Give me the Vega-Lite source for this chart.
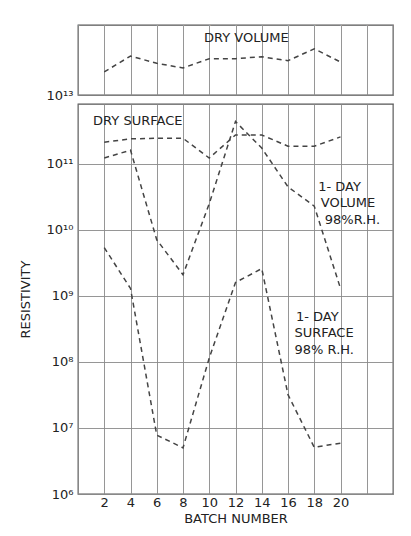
{
  "$schema": "https://vega.github.io/schema/vega-lite/v6.json",
  "background": "white",
  "padding": {"left": 18, "top": 23, "right": 17, "bottom": 8},
  "spacing": 0,
  "config": {
    "font": "DejaVu Sans",
    "view": {"stroke": "#555", "strokeWidth": 1.3},
    "axis": {"gridColor": "#8a8a8a", "gridWidth": 0.9, "gridOpacity": 1, "domain": false, "ticks": false, "labelColor": "#222", "titleColor": "#222", "labelFontSize": 13, "titleFontSize": 13, "titleFontWeight": "normal", "labelFont": "DejaVu Sans", "titleFont": "DejaVu Sans"}
  },
  "datasets": {
    "upper": [
      {"batch": 2, "value": 2.24e13, "series": "Dry volume"},
      {"batch": 4, "value": 3.89e13, "series": "Dry volume"},
      {"batch": 6, "value": 3.02e13, "series": "Dry volume"},
      {"batch": 8, "value": 2.57e13, "series": "Dry volume"},
      {"batch": 10, "value": 3.55e13, "series": "Dry volume"},
      {"batch": 12, "value": 3.55e13, "series": "Dry volume"},
      {"batch": 14, "value": 3.8e13, "series": "Dry volume"},
      {"batch": 16, "value": 3.31e13, "series": "Dry volume"},
      {"batch": 18, "value": 5.01e13, "series": "Dry volume"},
      {"batch": 20, "value": 3.16e13, "series": "Dry volume"}
    ],
    "lower": [
      {"batch": 2, "value": 2.14e11, "series": "Dry surface"},
      {"batch": 4, "value": 2.4e11, "series": "Dry surface"},
      {"batch": 6, "value": 2.45e11, "series": "Dry surface"},
      {"batch": 8, "value": 2.45e11, "series": "Dry surface"},
      {"batch": 10, "value": 1.23e11, "series": "Dry surface"},
      {"batch": 12, "value": 2.75e11, "series": "Dry surface"},
      {"batch": 14, "value": 2.75e11, "series": "Dry surface"},
      {"batch": 16, "value": 1.86e11, "series": "Dry surface"},
      {"batch": 18, "value": 1.86e11, "series": "Dry surface"},
      {"batch": 20, "value": 2.57e11, "series": "Dry surface"},
      {"batch": 2, "value": 1.23e11, "series": "1-day volume"},
      {"batch": 4, "value": 1.62e11, "series": "1-day volume"},
      {"batch": 6, "value": 7.1e9, "series": "1-day volume"},
      {"batch": 8, "value": 2.1e9, "series": "1-day volume"},
      {"batch": 10, "value": 2.5e10, "series": "1-day volume"},
      {"batch": 12, "value": 4.4e11, "series": "1-day volume"},
      {"batch": 14, "value": 1.74e11, "series": "1-day volume"},
      {"batch": 16, "value": 4.5e10, "series": "1-day volume"},
      {"batch": 18, "value": 2.3e10, "series": "1-day volume"},
      {"batch": 20, "value": 1.3e9, "series": "1-day volume"},
      {"batch": 2, "value": 5.4e9, "series": "1-day surface"},
      {"batch": 4, "value": 1.3e9, "series": "1-day surface"},
      {"batch": 6, "value": 7.8e6, "series": "1-day surface"},
      {"batch": 8, "value": 5.0e6, "series": "1-day surface"},
      {"batch": 10, "value": 1.15e8, "series": "1-day surface"},
      {"batch": 12, "value": 1.6e9, "series": "1-day surface"},
      {"batch": 14, "value": 2.6e9, "series": "1-day surface"},
      {"batch": 16, "value": 3.2e7, "series": "1-day surface"},
      {"batch": 18, "value": 5.1e6, "series": "1-day surface"},
      {"batch": 20, "value": 5.9e6, "series": "1-day surface"}
    ],
    "labels": [
      {"panel": "upper", "batch": 9.6, "value": 7.2e13, "text": "DRY VOLUME"},
      {"panel": "lower", "batch": 1.15, "value": 4.4e11, "text": "DRY SURFACE"},
      {"panel": "lower", "batch": 18.3, "value": 4.5e10, "text": "1- DAY"},
      {"panel": "lower", "batch": 18.5, "value": 2.6e10, "text": "VOLUME"},
      {"panel": "lower", "batch": 18.8, "value": 1.4e10, "text": "98%R.H."},
      {"panel": "lower", "batch": 16.6, "value": 4.8e8, "text": "1- DAY"},
      {"panel": "lower", "batch": 16.5, "value": 2.75e8, "text": "SURFACE"},
      {"panel": "lower", "batch": 16.5, "value": 1.5e8, "text": "98% R.H."}
    ]
  },
  "vconcat": [
    {
      "width": 315,
      "height": 70,
      "layer": [
        {
          "data": {"name": "upper"},
          "mark": {"type": "line", "strokeDash": [5, 4], "strokeWidth": 1.5, "color": "#444"},
          "encoding": {
            "x": {"field": "batch", "type": "quantitative", "scale": {"domain": [0, 24], "nice": false}, "axis": {"tickCount": 12, "labelFontSize": 1, "labelColor": "white", "labelPadding": 0, "title": null, "grid": true, "orient": "top", "labelOverlap": false}},
            "y": {"field": "value", "type": "quantitative", "scale": {"type": "log", "domain": [1e13, 1.15e14], "nice": false}, "axis": {"values": [1e13], "labelExpr": "'10¹³'", "grid": false, "title": null, "labelPadding": 5}}
          }
        },
        {
          "data": {"name": "labels"},
          "transform": [{"filter": "datum.panel == 'upper'"}],
          "mark": {"type": "text", "align": "left", "baseline": "middle", "fontSize": 13, "color": "#222"},
          "encoding": {
            "x": {"field": "batch", "type": "quantitative"},
            "y": {"field": "value", "type": "quantitative"},
            "text": {"field": "text"}
          }
        }
      ]
    },
    {
      "width": 315,
      "height": 390,
      "layer": [
        {
          "data": {"name": "lower"},
          "mark": {"type": "line", "strokeDash": [5, 4], "strokeWidth": 1.5, "color": "#444"},
          "encoding": {
            "x": {"field": "batch", "type": "quantitative", "scale": {"domain": [0, 24], "nice": false}, "axis": {"tickCount": 12, "labelExpr": "datum.value >= 2 && datum.value <= 20 ? datum.label : ''", "labelOverlap": false, "title": "BATCH NUMBER", "grid": true, "labelPadding": 2, "titlePadding": 3}},
            "y": {"field": "value", "type": "quantitative", "scale": {"type": "log", "domain": [1e6, 8.1e11], "nice": false}, "axis": {"values": [1e6, 1e7, 1e8, 1e9, 1e10, 1e11], "labelExpr": "'10' + ['⁶','⁷','⁸','⁹','¹⁰','¹¹'][round(log(datum.value)/LN10) - 6]", "grid": true, "title": "RESISTIVITY", "labelPadding": 5, "titlePadding": 14}},
            "detail": {"field": "series"}
          }
        },
        {
          "data": {"name": "labels"},
          "transform": [{"filter": "datum.panel == 'lower'"}],
          "mark": {"type": "text", "align": "left", "baseline": "middle", "fontSize": 13, "color": "#222"},
          "encoding": {
            "x": {"field": "batch", "type": "quantitative"},
            "y": {"field": "value", "type": "quantitative"},
            "text": {"field": "text"}
          }
        }
      ]
    }
  ]
}
